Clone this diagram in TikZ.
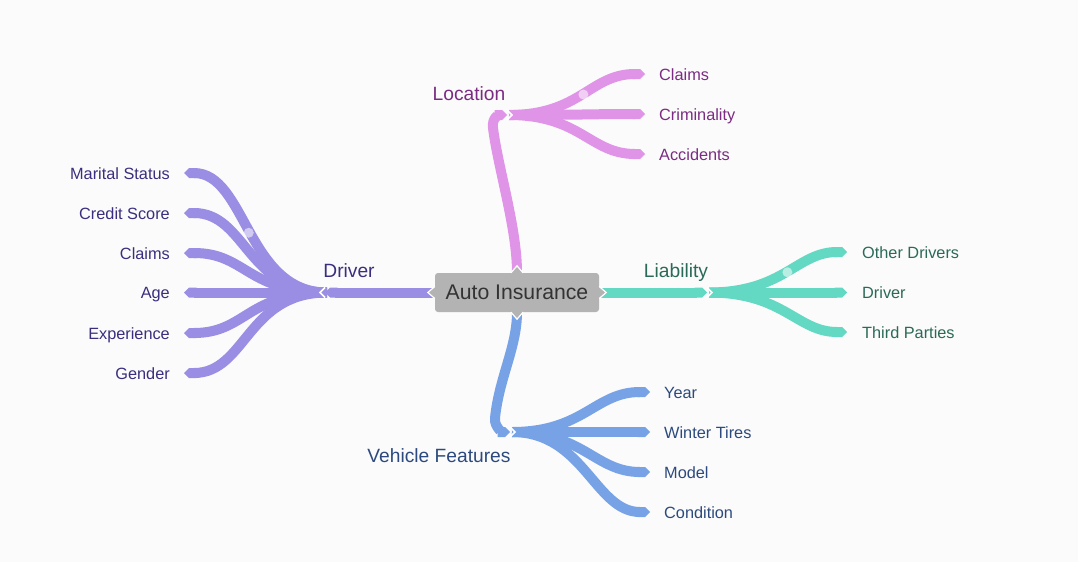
\documentclass[tikz,border=0pt]{standalone}
\usepackage{fontspec}
\setmainfont{Liberation Sans}
\usetikzlibrary{arrows.meta}
\definecolor{bgcol}{HTML}{FBFBFB}
\definecolor{cgray}{HTML}{B3B3B3}
\definecolor{ctext}{HTML}{333333}
\definecolor{drvline}{HTML}{9A8DE4}
\definecolor{drvtext}{HTML}{3B2E7E}
\definecolor{locline}{HTML}{E094E8}
\definecolor{loctext}{HTML}{7B2C82}
\definecolor{lialine}{HTML}{63D8C2}
\definecolor{liatext}{HTML}{2B6A58}
\definecolor{vehline}{HTML}{77A3E6}
\definecolor{vehtext}{HTML}{2C4A7D}
\begin{document}
\begin{tikzpicture}[x=1pt,y=-1pt,
    branch/.style = {line width=10pt, line cap=butt},
    tipped/.style = {branch, -{Triangle Cap}},
    leaf/.style   = {font=\fontsize{16.3}{19}\selectfont, inner sep=0pt},
    topic/.style  = {font=\fontsize{19.2}{23}\selectfont, inner sep=0pt, anchor=base},
    notch/.style  = {white, line width=1.5pt},
    shine/.style  = {fill=white, fill opacity=.55}
  ]
  \fill[bgcol] (0,0) rectangle (1078,562);
  \useasboundingbox (0,0) rectangle (1078,562);

  % centre
  \node[fill=cgray, rounded corners=3pt, minimum width=164pt, minimum height=39pt,
    font=\fontsize{21.2}{25}\selectfont, text=ctext] (cn) at (517,292.5) {Auto Insurance};

  % topic labels
  \node[topic, text=drvtext] (drv) at (349,277) {Driver};
  \node[topic, text=loctext] (loc) at (469,100) {Location};
  \node[topic, text=liatext] (lia) at (676,277) {Liability};
  \node[topic, text=vehtext] (veh) at (439,462) {Vehicle Features};

  % junctions and tips
  \coordinate (drvtip) at (325,292.5);
  \coordinate (drvj)   at (327,292.5);
  \coordinate (liatip) at (707,292.5);
  \coordinate (liaj)   at (709,292.5);
  \coordinate (locbend) at (493,128);
  \coordinate (loctip) at (507,115);
  \coordinate (locj)   at (509,115);
  \coordinate (vehbend) at (495,418);
  \coordinate (vehtip) at (510,432);
  \coordinate (vehj)   at (512,432);

  % leaves
  \foreach \y/\t [count=\i] in {173/Marital Status,213/Credit Score,253/Claims,
      292.5/Age,333/Experience,373/Gender}{
    \node[leaf, text=drvtext, anchor=base east] (d\i) at (170,\y+6) {\t};
    \coordinate (d\i e) at (184,\y);
  }
  \foreach \y/\t [count=\i] in {74/Claims,114/Criminality,154/Accidents}{
    \node[leaf, text=loctext, anchor=base west] (l\i) at (659,\y+6) {\t};
    \coordinate (l\i e) at (645,\y);
  }
  \foreach \y/\t [count=\i] in {252/Other Drivers,292.5/Driver,332/Third Parties}{
    \node[leaf, text=liatext, anchor=base west] (b\i) at (862,\y+6) {\t};
    \coordinate (b\i e) at (847,\y);
  }
  \foreach \y/\t [count=\i] in {392/Year,432/Winter Tires,472/Model,512/Condition}{
    \node[leaf, text=vehtext, anchor=base west] (v\i) at (664,\y+6) {\t};
    \coordinate (v\i e) at (650,\y);
  }

  % bundles
  \foreach \i in {1,...,6}
    \draw[tipped, drvline] (drvj) .. controls +(-80,0) and +(62,0) .. (d\i e);
  \foreach \i in {1,...,3}
    \draw[tipped, locline] (locj) .. controls +(72,0) and +(-55,0) .. (l\i e);
  \foreach \i in {1,...,3}
    \draw[tipped, lialine] (liaj) .. controls +(75,0) and +(-50,0) .. (b\i e);
  \foreach \i in {1,...,4}
    \draw[tipped, vehline] (vehj) .. controls +(72,0) and +(-55,0) .. (v\i e);

  % trunks
  \draw[tipped, drvline] (cn.west) -- (drvtip);
  \draw[tipped, lialine] (cn.east) -- (liatip);
  \draw[tipped, locline] (cn.north) .. controls +(0,-45) and +(5,40) .. (locbend)
    .. controls +(-1.5,-11) and +(-7,0) .. (loctip);
  \draw[tipped, vehline] (cn.south) .. controls +(0,35) and +(4,-40) .. (vehbend)
    .. controls +(-1,9) and +(-7,0) .. (vehtip);

  % notches
  \draw[notch] (drvtip) ++(0,-5) -- ++(-5,5) -- ++(5,5);
  \draw[notch] (liatip) ++(0,-5) -- ++(5,5) -- ++(-5,5);
  \draw[notch] (loctip) ++(0,-5) -- ++(5,5) -- ++(-5,5);
  \draw[notch] (vehtip) ++(0,-5) -- ++(5,5) -- ++(-5,5);

  % points of the centre box
  \filldraw[fill=cgray, draw=white, line width=1.2pt]
    ([yshift=6pt]cn.west) -- ++(-7,6) -- ++(7,6);
  \filldraw[fill=cgray, draw=white, line width=1.2pt]
    ([yshift=6pt]cn.east) -- ++(7,6) -- ++(-7,6);
  \filldraw[fill=cgray, draw=white, line width=1.2pt]
    ([xshift=-6pt]cn.north) -- ++(6,-7) -- ++(6,7);
  \filldraw[fill=cgray, draw=white, line width=1.2pt]
    ([xshift=-6pt]cn.south) -- ++(6,7) -- ++(6,-7);

  % highlights
  \fill[shine] (248.75,232.75) circle (5);
  \fill[shine] (583.4,94.5) circle (5);
  \fill[shine] (787.4,272.25) circle (5);
\end{tikzpicture}
\end{document}
